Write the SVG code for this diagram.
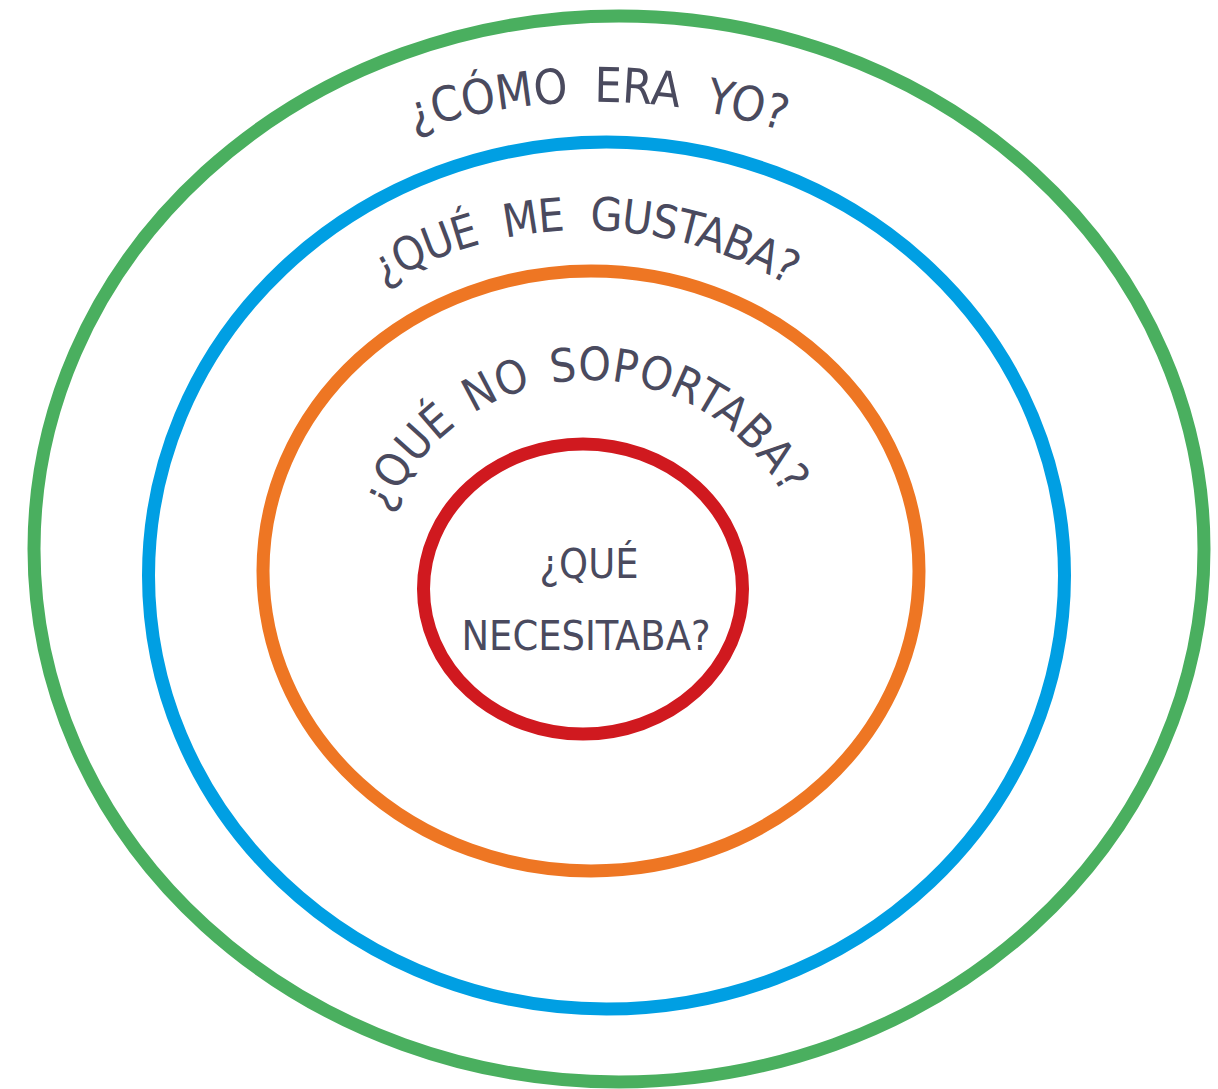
<svg xmlns="http://www.w3.org/2000/svg" width="1218" height="1089" viewBox="0 0 1218 1089">
<style>
.ring{fill:none;stroke-width:13}
.lbl{font-family:"Liberation Sans Narrow","DejaVu Sans Condensed","Liberation Sans",sans-serif;fill:#4a4a5e}
</style>
<defs>
<path id="arc1" d="M -2 702 A 600 600 0 0 1 1198 702"/>
<path id="arc2" d="M 185 630 A 400 400 0 0 1 985 630"/>
<path id="arc3" d="M 370 600 A 220 220 0 0 1 810 600"/>
</defs>
<rect width="1218" height="1089" fill="#ffffff"/>
<g id="ring-green"><ellipse class="ring" cx="619" cy="549" rx="585" ry="533" stroke="#4aaf5f"/></g>
<g id="ring-blue"><ellipse class="ring" cx="606.5" cy="575.5" rx="458" ry="433.5" stroke="#009fe3"/></g>
<g id="ring-orange"><ellipse class="ring" cx="591" cy="571" rx="328" ry="300" stroke="#ee7623"/></g>
<g id="ring-red"><ellipse class="ring" cx="583" cy="589" rx="159.5" ry="145" stroke="#d0191f"/></g>
<g id="label-1"><text class="lbl" font-size="48" letter-spacing="0" word-spacing="12" text-anchor="middle"><textPath href="#arc1" startOffset="50%">¿CÓMO ERA YO?</textPath></text></g>
<g id="label-2"><text class="lbl" font-size="46" letter-spacing="-1.3" word-spacing="14" text-anchor="middle"><textPath href="#arc2" startOffset="50%">¿QUÉ ME GUSTABA?</textPath></text></g>
<g id="label-3"><text class="lbl" font-size="46" letter-spacing="0.5" word-spacing="6" text-anchor="middle"><textPath href="#arc3" startOffset="336">¿QUÉ NO SOPORTABA?</textPath></text></g>
<g id="label-4"><text class="lbl" font-size="41" text-anchor="middle"><tspan x="589" y="578">¿QUÉ</tspan><tspan x="586" y="650">NECESITABA?</tspan></text></g>
</svg>
